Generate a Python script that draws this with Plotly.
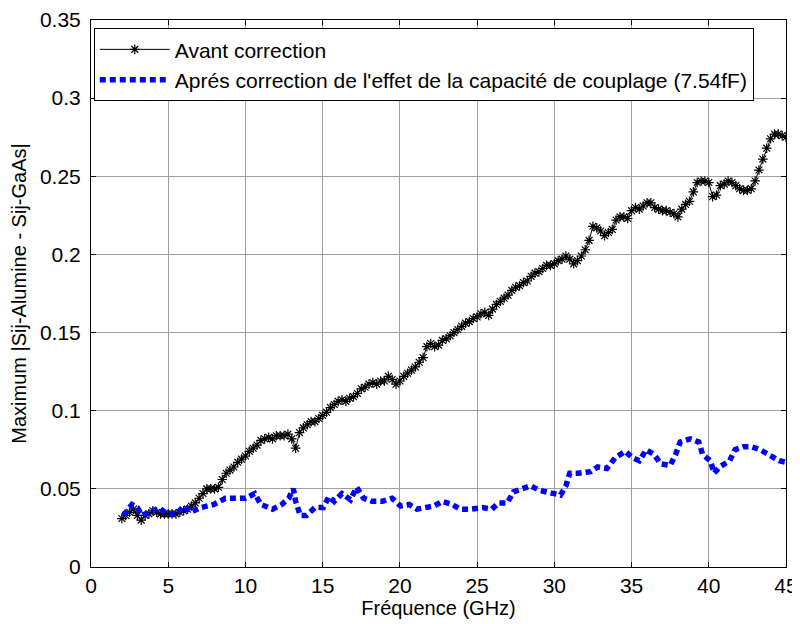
"""Maximum |Sij-Alumine - Sij-GaAs| before and after coupling-capacitance correction."""
import numpy as np
import plotly.graph_objects as go

# Avant correction: frequency (GHz) and values, every 0.25 GHz
freq_avant = np.arange(2.0, 45.01, 0.25)
avant = [
    0.031, 0.033, 0.035, 0.037, 0.033, 0.030, 0.033, 0.034, 0.036, 0.035,
    0.034, 0.034, 0.034, 0.034, 0.034, 0.035, 0.036, 0.037, 0.039, 0.041,
    0.044, 0.047, 0.050, 0.050, 0.050, 0.051, 0.056, 0.060, 0.062, 0.064,
    0.067, 0.069, 0.071, 0.074, 0.076, 0.078, 0.081, 0.082, 0.083, 0.082,
    0.084, 0.084, 0.084, 0.085, 0.082, 0.076, 0.086, 0.089, 0.091, 0.093,
    0.093, 0.095, 0.097, 0.099, 0.102, 0.104, 0.106, 0.107, 0.106, 0.108,
    0.109, 0.111, 0.114, 0.115, 0.117, 0.118, 0.117, 0.119, 0.119, 0.122,
    0.120, 0.117, 0.119, 0.122, 0.124, 0.126, 0.128, 0.131, 0.134, 0.141,
    0.143, 0.141, 0.142, 0.145, 0.146, 0.148, 0.150, 0.152, 0.154, 0.156,
    0.157, 0.159, 0.160, 0.162, 0.163, 0.161, 0.165, 0.168, 0.170, 0.172,
    0.174, 0.177, 0.179, 0.180, 0.182, 0.183, 0.186, 0.188, 0.189, 0.191,
    0.193, 0.193, 0.194, 0.196, 0.197, 0.199, 0.197, 0.194, 0.196, 0.199,
    0.203, 0.209, 0.218, 0.217, 0.215, 0.212, 0.214, 0.216, 0.222, 0.224,
    0.224, 0.223, 0.228, 0.230, 0.229, 0.231, 0.233, 0.233, 0.230, 0.229,
    0.228, 0.228, 0.227, 0.226, 0.224, 0.229, 0.232, 0.234, 0.240, 0.246,
    0.247, 0.247, 0.246, 0.237, 0.238, 0.244, 0.245, 0.247, 0.246, 0.244,
    0.242, 0.241, 0.241, 0.242, 0.247, 0.254, 0.261, 0.268, 0.274, 0.277,
    0.277, 0.276, 0.275,
]

# Aprés correction: points
freq_apres = [
    2.1, 2.65, 3.0, 3.3, 3.85, 4.4, 4.9, 5.55, 6.0, 6.45,
    7.1, 7.95, 8.7, 9.35, 10.0, 10.6, 11.0, 11.75, 12.35, 12.8,
    13.1, 13.25, 13.55, 13.95, 14.5, 15.05, 15.4, 15.75, 16.25, 16.8,
    17.2, 17.65, 18.2, 18.85, 19.5, 20.05, 20.6, 21.1, 21.65, 22.2,
    22.75, 23.4, 23.9, 24.55, 25.35, 25.95, 26.4, 26.95, 27.35, 27.85,
    28.45, 29.05, 29.75, 30.4, 30.75, 31.0, 31.55, 32.35, 32.8, 33.4,
    33.95, 34.6, 35.05, 35.5, 35.95, 36.45, 36.9, 37.5, 37.85, 38.15,
    38.8, 39.35, 39.6, 40.1, 40.35, 40.7, 41.35, 41.7, 42.25, 42.75,
    43.35, 44.0, 44.55, 45.0,
]
apres = [
    0.033, 0.040, 0.038, 0.033, 0.035, 0.038, 0.034, 0.034, 0.039, 0.035,
    0.038, 0.040, 0.044, 0.044, 0.044, 0.047, 0.040, 0.037, 0.040, 0.044,
    0.050, 0.042, 0.033, 0.033, 0.038, 0.038, 0.045, 0.042, 0.047, 0.043,
    0.051, 0.044, 0.042, 0.042, 0.044, 0.039, 0.040, 0.037, 0.038, 0.039,
    0.042, 0.040, 0.037, 0.037, 0.038, 0.037, 0.041, 0.041, 0.048, 0.050,
    0.052, 0.049, 0.047, 0.046, 0.052, 0.060, 0.060, 0.061, 0.064, 0.063,
    0.070, 0.074, 0.070, 0.068, 0.075, 0.072, 0.066, 0.065, 0.072, 0.080,
    0.082, 0.080, 0.072, 0.068, 0.060, 0.064, 0.068, 0.075, 0.077, 0.077,
    0.075, 0.071, 0.068, 0.067,
]

x_ticks = [0, 5, 10, 15, 20, 25, 30, 35, 40, 45]
y_ticks = [0, 0.05, 0.1, 0.15, 0.2, 0.25, 0.3, 0.35]
y_tick_labels = ['0', '0.05', '0.1', '0.15', '0.2', '0.25', '0.3', '0.35']

FONT = 'Liberation Sans, Arial, sans-serif'

fig = go.Figure()

fig.add_trace(go.Scatter(
    x=freq_avant,
    y=avant,
    mode='lines+markers',
    name='Avant correction',
    line=dict(color='black', width=1),
    marker=dict(symbol='asterisk-open', size=8, color='black',
                line=dict(width=1.2, color='black')),
))

fig.add_trace(go.Scatter(
    x=freq_apres,
    y=apres,
    mode='lines',
    name="Aprés correction de l'effet de la capacité de couplage (7.54fF)",
    line=dict(color='#0000ff', width=5.5, dash='6px,4px'),
))

axis_common = dict(
    showline=True,
    linecolor='black',
    linewidth=1,
    mirror='ticks',
    ticks='inside',
    ticklen=5,
    tickcolor='black',
    showgrid=True,
    gridcolor='#a0a0a0',
    gridwidth=1,
    zeroline=False,
    automargin=False,
    ticklabeloverflow='allow',
    tickfont=dict(family=FONT, size=21, color='black'),
)

fig.update_xaxes(
    range=[0, 45],
    tickvals=x_ticks,
    ticklabelstandoff=0,
    title=dict(text='Fréquence (GHz)', font=dict(family=FONT, size=20, color='black'),
               standoff=0),
    **axis_common,
)
fig.update_yaxes(
    range=[0, 0.35],
    tickvals=y_ticks,
    ticktext=y_tick_labels,
    ticklabelstandoff=5,
    title=dict(text='Maximum |Sij-Alumine - Sij-GaAs|',
               font=dict(family=FONT, size=20, color='black'), standoff=10),
    **axis_common,
)

# page body adds an 8px margin, so the figure is sized to fit the window
fig.update_layout(
    width=792,
    height=616,
    margin=dict(l=83, r=14, t=12, b=57),
    plot_bgcolor='white',
    paper_bgcolor='white',
    showlegend=True,
    legend=dict(
        x=0.004,
        y=0.985,
        xanchor='left',
        yanchor='top',
        bgcolor='white',
        bordercolor='black',
        borderwidth=1,
        font=dict(family=FONT, size=21, color='black'),
        itemwidth=70,
        tracegroupgap=0,
    ),
)

fig.write_html("out.html")
